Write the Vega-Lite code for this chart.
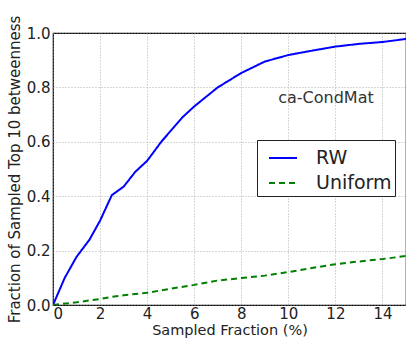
{
  "$schema": "https://vega.github.io/schema/vega-lite/v6.json",
  "width": 353,
  "height": 272,
  "autosize": {"type": "none"},
  "padding": {"left": 53, "top": 33, "right": 0, "bottom": 34},
  "background": "white",
  "config": {
    "font": "DejaVu Sans",
    "view": {"stroke": "black", "strokeWidth": 1.2},
    "axis": {
      "domain": false,
      "ticks": false,
      "grid": true,
      "gridColor": "#9a9a9a",
      "gridDash": [1, 2],
      "gridWidth": 0.8,
      "labelFont": "DejaVu Sans",
      "labelFontSize": 15,
      "labelColor": "#222",
      "titleFont": "DejaVu Sans",
      "titleFontSize": 15,
      "titleFontWeight": "normal",
      "titleColor": "#222"
    }
  },
  "data": {
    "values": [
      {"x": 0, "y": 0, "s": "RW"},
      {"x": 0.5, "y": 0.1, "s": "RW"},
      {"x": 1, "y": 0.177, "s": "RW"},
      {"x": 1.55, "y": 0.24, "s": "RW"},
      {"x": 2, "y": 0.31, "s": "RW"},
      {"x": 2.5, "y": 0.404, "s": "RW"},
      {"x": 3, "y": 0.435, "s": "RW"},
      {"x": 3.5, "y": 0.49, "s": "RW"},
      {"x": 4, "y": 0.53, "s": "RW"},
      {"x": 4.6, "y": 0.6, "s": "RW"},
      {"x": 5, "y": 0.64, "s": "RW"},
      {"x": 5.5, "y": 0.69, "s": "RW"},
      {"x": 6, "y": 0.73, "s": "RW"},
      {"x": 7, "y": 0.8, "s": "RW"},
      {"x": 8, "y": 0.853, "s": "RW"},
      {"x": 9, "y": 0.895, "s": "RW"},
      {"x": 10, "y": 0.919, "s": "RW"},
      {"x": 11, "y": 0.935, "s": "RW"},
      {"x": 12, "y": 0.95, "s": "RW"},
      {"x": 13, "y": 0.96, "s": "RW"},
      {"x": 14, "y": 0.967, "s": "RW"},
      {"x": 15, "y": 0.978, "s": "RW"},
      {"x": 0, "y": 0, "s": "Uniform"},
      {"x": 1, "y": 0.01, "s": "Uniform"},
      {"x": 2, "y": 0.022, "s": "Uniform"},
      {"x": 2.5, "y": 0.03, "s": "Uniform"},
      {"x": 3, "y": 0.036, "s": "Uniform"},
      {"x": 4, "y": 0.045, "s": "Uniform"},
      {"x": 5, "y": 0.06, "s": "Uniform"},
      {"x": 6, "y": 0.074, "s": "Uniform"},
      {"x": 7, "y": 0.09, "s": "Uniform"},
      {"x": 8, "y": 0.099, "s": "Uniform"},
      {"x": 9, "y": 0.108, "s": "Uniform"},
      {"x": 10, "y": 0.121, "s": "Uniform"},
      {"x": 11, "y": 0.136, "s": "Uniform"},
      {"x": 12, "y": 0.15, "s": "Uniform"},
      {"x": 13, "y": 0.16, "s": "Uniform"},
      {"x": 14, "y": 0.169, "s": "Uniform"},
      {"x": 15, "y": 0.18, "s": "Uniform"}
    ]
  },
  "layer": [
    {
      "mark": {"type": "line", "strokeWidth": 2, "clip": true},
      "encoding": {
        "x": {
          "field": "x", "type": "quantitative",
          "scale": {"domain": [0, 15], "nice": false},
          "axis": {"values": [0, 2, 4, 6, 8, 10, 12, 14], "title": "Sampled Fraction (%)", "labelPadding": 1, "titlePadding": 2, "titleFontSize": 14.5}
        },
        "y": {
          "field": "y", "type": "quantitative",
          "scale": {"domain": [0, 1], "nice": false},
          "axis": {"values": [0, 0.2, 0.4, 0.6, 0.8, 1.0], "format": ".1f", "title": "Fraction of Sampled Top 10 betweenness", "labelPadding": 3, "titlePadding": 4}
        },
        "color": {
          "field": "s", "type": "nominal",
          "scale": {"domain": ["RW", "Uniform"], "range": ["#0000ff", "#007f00"]},
          "legend": {
            "title": null,
            "orient": "none",
            "legendX": 204,
            "legendY": 107,
            "strokeColor": "#222",
            "fillColor": "white",
            "padding": 3,
            "symbolType": "stroke",
            "symbolSize": 784,
            "symbolOffset": 8,
            "symbolStrokeWidth": 2,
            "labelFontSize": 19,
            "labelColor": "#222",
            "labelOffset": 18,
            "rowPadding": 0,
            "labelLimit": 200
          }
        },
        "strokeDash": {
          "field": "s", "type": "nominal",
          "scale": {"domain": ["RW", "Uniform"], "range": [[1, 0], [6, 4]]},
          "legend": null
        }
      }
    },
    {
      "data": {"values": [{"x": 11.6, "y": 0.76, "t": "ca-CondMat"}]},
      "mark": {"type": "text", "fontSize": 16, "color": "#333", "align": "center", "baseline": "middle"},
      "encoding": {
        "x": {"field": "x", "type": "quantitative"},
        "y": {"field": "y", "type": "quantitative"},
        "text": {"field": "t"}
      }
    }
  ]
}
